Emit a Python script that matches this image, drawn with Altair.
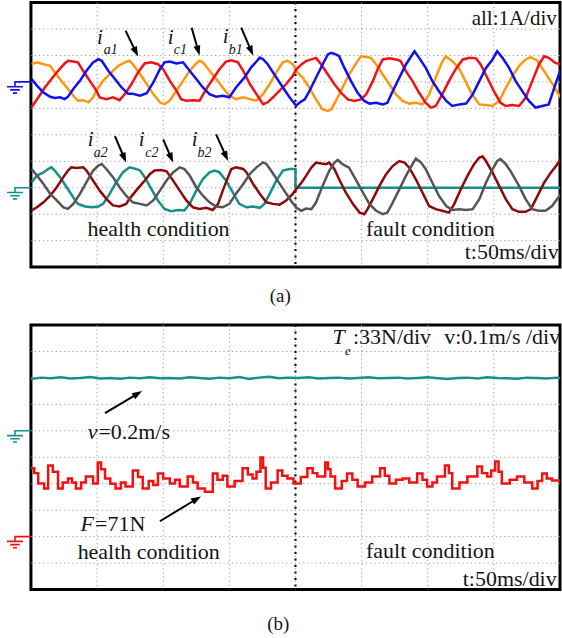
import math
import altair as alt
import pandas as pd

# ---------------- data (time in divisions of 50 ms, amplitude in divisions) ----------------
FAULT_T = 4.0
GRID_X = [1, 2, 3, 4, 5, 6, 7]
GRID_Y = [1, 2, 3, 4, 5, 6, 7, 8, 9]

# panel (a) upper group, 1 A/div, ground level at division 7
IA1 = [(0.01, -0.96), (0.11, -0.59), (0.21, -0.21), (0.31, 0.11), (0.41, 0.42), (0.51, 0.70), (0.56, 0.80),
       (0.64, 0.77), (0.71, 0.74), (0.79, 0.42), (0.89, 0.04), (0.99, -0.33), (1.04, -0.59), (1.14, -0.65),
       (1.24, -0.58), (1.34, -0.69), (1.42, -0.46), (1.52, -0.08), (1.62, 0.36), (1.72, 0.70), (1.82, 0.74),
       (1.92, 0.67), (2.00, 0.48), (2.10, 0.04), (2.20, -0.33), (2.27, -0.65), (2.35, -0.71), (2.45, -0.69),
       (2.55, -0.71), (2.65, -0.27), (2.75, 0.11), (2.85, 0.48), (2.95, 0.77), (3.03, 0.82), (3.13, 0.74),
       (3.21, 0.42), (3.31, -0.08), (3.41, -0.46), (3.51, -0.84), (3.58, -0.77), (3.66, -0.58), (3.76, -0.33),
       (3.86, -0.08), (3.96, 0.23), (4.01, 0.47), (4.09, 0.66), (4.16, 0.79), (4.24, 0.85), (4.31, 0.91),
       (4.39, 0.66), (4.49, 0.28), (4.59, -0.09), (4.69, -0.41), (4.79, -0.66), (4.89, -0.72), (4.99, -0.66),
       (5.07, -0.47), (5.17, 0.03), (5.24, 0.47), (5.32, 0.85), (5.42, 0.89), (5.52, 0.85), (5.59, 0.79),
       (5.67, 0.41), (5.77, 0.03), (5.87, -0.41), (5.97, -0.79), (6.05, -0.97), (6.12, -0.91), (6.22, -0.47),
       (6.32, 0.03), (6.42, 0.47), (6.53, 0.85), (6.63, 0.91), (6.73, 0.89), (6.80, 0.66), (6.90, 0.16),
       (7.00, -0.35), (7.10, -0.79), (7.18, -0.91), (7.28, -0.87), (7.38, -0.91), (7.48, -0.60), (7.58, 0.03),
       (7.68, 0.66), (7.76, 0.97), (7.83, 0.91), (7.93, 0.72), (8.01, 0.66)]
IB1 = [(0.01, 0.11), (0.09, -0.14), (0.19, -0.40), (0.29, -0.56), (0.36, -0.61), (0.44, -0.58), (0.51, -0.65),
       (0.56, -0.56), (0.64, -0.27), (0.74, 0.04), (0.84, 0.42), (0.94, 0.74), (1.02, 0.86), (1.07, 0.80),
       (1.17, 0.42), (1.27, 0.11), (1.37, -0.21), (1.47, -0.45), (1.54, -0.45), (1.65, -0.52), (1.75, -0.43),
       (1.85, -0.02), (1.95, 0.48), (2.02, 0.74), (2.10, 0.77), (2.20, 0.70), (2.30, 0.74), (2.40, 0.42),
       (2.50, 0.11), (2.60, -0.21), (2.70, -0.46), (2.80, -0.56), (2.90, -0.52), (3.00, -0.58), (3.10, -0.21),
       (3.23, 0.17), (3.33, 0.55), (3.41, 0.77), (3.46, 0.92), (3.51, 0.86), (3.58, 0.67), (3.71, 0.17),
       (3.81, -0.21), (3.91, -0.58), (4.01, -0.90), (4.06, -0.79), (4.14, -0.66), (4.21, -0.35), (4.31, 0.16),
       (4.41, 0.66), (4.49, 1.04), (4.54, 1.10), (4.61, 1.04), (4.66, 0.97), (4.74, 0.53), (4.84, 0.03),
       (4.94, -0.41), (5.04, -0.72), (5.12, -0.82), (5.22, -0.79), (5.32, -0.85), (5.39, -0.79), (5.47, -0.35),
       (5.57, 0.16), (5.67, 0.66), (5.75, 0.97), (5.80, 1.16), (5.87, 0.91), (5.97, 0.53), (6.07, 0.03),
       (6.17, -0.35), (6.28, -0.72), (6.37, -0.91), (6.48, -0.85), (6.58, -0.82), (6.68, -0.47), (6.78, 0.03),
       (6.88, 0.53), (6.98, 0.85), (7.05, 1.16), (7.13, 0.91), (7.23, 0.53), (7.33, 0.03), (7.43, -0.35),
       (7.53, -0.72), (7.63, -0.97), (7.73, -0.91), (7.83, -0.85), (7.93, -0.09), (8.01, 0.47)]
IC1 = [(0.01, 0.67), (0.09, 0.74), (0.19, 0.67), (0.29, 0.61), (0.36, 0.36), (0.46, 0.04), (0.56, -0.27),
       (0.66, -0.58), (0.71, -0.71), (0.79, -0.69), (0.87, -0.77), (0.94, -0.58), (0.99, -0.33), (1.09, 0.04),
       (1.22, 0.36), (1.32, 0.61), (1.42, 0.74), (1.49, 0.80), (1.54, 0.67), (1.65, 0.30), (1.75, -0.08),
       (1.85, -0.46), (1.95, -0.77), (2.02, -0.84), (2.10, -0.71), (2.20, -0.33), (2.30, 0.04), (2.40, 0.42),
       (2.50, 0.70), (2.55, 0.80), (2.60, 0.74), (2.70, 0.42), (2.80, 0.11), (2.90, -0.21), (3.00, -0.52),
       (3.10, -0.65), (3.21, -0.58), (3.31, -0.65), (3.41, -0.71), (3.51, -0.46), (3.61, -0.08), (3.71, 0.36),
       (3.81, 0.74), (3.88, 0.80), (3.96, 0.67), (4.01, 0.41), (4.11, 0.16), (4.21, -0.22), (4.31, -0.66),
       (4.41, -1.04), (4.49, -1.10), (4.54, -1.04), (4.61, -0.72), (4.71, -0.22), (4.81, 0.28), (4.92, 0.72),
       (4.99, 0.97), (5.07, 0.94), (5.14, 0.91), (5.22, 0.66), (5.32, 0.28), (5.42, -0.09), (5.52, -0.47),
       (5.62, -0.72), (5.72, -0.82), (5.82, -0.79), (5.92, -0.85), (6.02, -0.47), (6.12, 0.16), (6.20, 0.66),
       (6.27, 0.97), (6.37, 0.79), (6.47, 0.53), (6.57, 0.03), (6.67, -0.47), (6.78, -0.85), (6.88, -0.87),
       (6.98, -0.91), (7.08, -0.72), (7.18, -0.22), (7.28, 0.22), (7.38, 0.60), (7.48, 0.85), (7.56, 0.94),
       (7.66, 0.79), (7.76, 0.41), (7.89, -0.09), (8.01, -0.60)]

# panel (a) lower group, 1 A/div, ground level at division 3
IA2 = [(0.01, 0.21), (0.09, 0.46), (0.19, 0.58), (0.26, 0.71), (0.31, 0.77), (0.36, 0.65), (0.44, 0.40),
       (0.54, 0.02), (0.64, -0.36), (0.71, -0.61), (0.82, -0.71), (0.92, -0.74), (1.02, -0.71), (1.09, -0.61),
       (1.19, -0.23), (1.29, 0.21), (1.39, 0.58), (1.49, 0.77), (1.59, 0.71), (1.65, 0.65), (1.72, 0.40),
       (1.82, -0.04), (1.92, -0.48), (2.02, -0.80), (2.12, -0.89), (2.22, -0.84), (2.32, -0.86), (2.40, -0.61),
       (2.50, -0.11), (2.60, 0.33), (2.70, 0.58), (2.78, 0.65), (2.85, 0.58), (2.95, 0.27), (3.05, -0.17),
       (3.15, -0.61), (3.26, -0.74), (3.36, -0.71), (3.46, -0.76), (3.53, -0.61), (3.61, -0.23), (3.71, 0.27),
       (3.81, 0.65), (3.91, 0.71), (4.00, 0.71), (4.00, 0.0), (8.05, 0.0)]
IB2 = [(0.01, -0.86), (0.09, -0.74), (0.19, -0.55), (0.29, -0.30), (0.39, 0.02), (0.49, 0.40), (0.56, 0.65),
       (0.61, 0.77), (0.69, 0.75), (0.79, 0.77), (0.84, 0.65), (0.94, 0.27), (1.04, -0.11), (1.14, -0.42),
       (1.24, -0.67), (1.34, -0.71), (1.44, -0.61), (1.49, -0.42), (1.59, -0.11), (1.70, 0.21), (1.80, 0.52),
       (1.87, 0.65), (1.97, 0.67), (2.05, 0.62), (2.15, 0.27), (2.25, -0.11), (2.35, -0.48), (2.45, -0.74),
       (2.55, -0.80), (2.65, -0.76), (2.75, -0.84), (2.83, -0.61), (2.90, -0.11), (2.98, 0.40), (3.03, 0.71),
       (3.10, 0.77), (3.21, 0.71), (3.26, 0.58), (3.36, 0.14), (3.46, -0.23), (3.56, -0.55), (3.66, -0.61),
       (3.76, -0.64), (3.86, -0.48), (3.96, -0.23), (4.01, -0.06), (4.09, 0.19), (4.16, 0.45), (4.24, 0.76),
       (4.31, 0.95), (4.39, 0.92), (4.46, 0.89), (4.51, 0.95), (4.59, 0.70), (4.66, 0.32), (4.76, -0.18),
       (4.87, -0.62), (4.97, -0.94), (5.04, -1.00), (5.09, -0.81), (5.17, -0.43), (5.27, 0.07), (5.37, 0.51),
       (5.47, 0.82), (5.57, 1.01), (5.65, 0.95), (5.72, 0.76), (5.82, 0.32), (5.92, -0.18), (6.02, -0.69),
       (6.12, -0.81), (6.22, -0.87), (6.32, -0.94), (6.40, -0.62), (6.50, -0.06), (6.60, 0.45), (6.70, 0.89),
       (6.78, 1.14), (6.83, 1.18), (6.88, 1.01), (6.98, 0.57), (7.08, 0.07), (7.18, -0.43), (7.28, -0.81),
       (7.38, -0.91), (7.48, -0.91), (7.56, -0.81), (7.66, -0.31), (7.76, 0.19), (7.86, 0.57), (7.94, 0.82),
       (8.01, 1.08)]
IC2 = [(0.01, 0.71), (0.09, 0.46), (0.19, 0.14), (0.29, -0.23), (0.39, -0.48), (0.49, -0.74), (0.56, -0.80),
       (0.64, -0.61), (0.74, -0.23), (0.84, 0.21), (0.94, 0.65), (1.02, 0.84), (1.07, 0.90), (1.14, 0.71),
       (1.24, 0.40), (1.34, 0.02), (1.44, -0.30), (1.54, -0.55), (1.65, -0.61), (1.75, -0.67), (1.85, -0.48),
       (1.95, -0.11), (2.05, 0.27), (2.15, 0.58), (2.25, 0.77), (2.32, 0.71), (2.40, 0.46), (2.50, 0.02),
       (2.60, -0.30), (2.70, -0.55), (2.80, -0.71), (2.90, -0.74), (3.00, -0.61), (3.10, -0.23), (3.21, 0.14),
       (3.31, 0.52), (3.41, 0.77), (3.51, 0.96), (3.56, 0.90), (3.63, 0.65), (3.73, 0.27), (3.83, -0.11),
       (3.93, -0.48), (4.01, -0.75), (4.09, -0.87), (4.16, -0.79), (4.24, -0.81), (4.31, -0.56), (4.41, 0.07),
       (4.51, 0.64), (4.59, 0.95), (4.64, 1.05), (4.71, 0.89), (4.81, 0.76), (4.91, 0.32), (5.02, -0.18),
       (5.12, -0.62), (5.22, -0.87), (5.32, -1.00), (5.39, -0.94), (5.47, -0.56), (5.57, -0.06), (5.67, 0.45),
       (5.77, 0.89), (5.82, 1.10), (5.90, 0.95), (5.97, 0.70), (6.07, 0.19), (6.17, -0.31), (6.28, -0.69),
       (6.37, -0.84), (6.48, -0.81), (6.58, -0.84), (6.68, -0.81), (6.78, -0.43), (6.88, 0.19), (6.98, 0.70),
       (7.05, 1.01), (7.10, 1.08), (7.18, 0.89), (7.25, 0.64), (7.38, 0.07), (7.48, -0.43), (7.58, -0.81),
       (7.68, -0.87), (7.78, -0.87), (7.88, -0.69), (8.01, -0.25)]

# panel (b): speed (0.1 m/s/div, ground at division 6), thrust (33 N/div, ground at division 2)
SPEED = [(0.0, 1.96), (0.15, 2.01), (0.3, 1.99), (0.45, 2.02), (0.6, 1.98), (0.75, 2.0), (0.9, 2.03),
         (1.05, 1.98), (1.2, 2.0), (1.35, 1.97), (1.5, 2.01), (1.65, 1.99), (1.8, 2.02), (1.95, 1.99),
         (2.1, 2.0), (2.25, 1.98), (2.4, 2.02), (2.55, 2.0), (2.7, 1.97), (2.85, 2.01), (3.0, 1.99),
         (3.15, 2.03), (3.3, 1.96), (3.45, 2.01), (3.6, 2.04), (3.75, 1.99), (3.9, 2.01), (4.05, 2.0),
         (4.2, 2.02), (4.35, 1.98), (4.5, 2.0), (4.65, 2.01), (4.8, 1.98), (4.95, 2.0), (5.1, 2.02),
         (5.25, 1.99), (5.4, 2.0), (5.55, 2.01), (5.7, 1.98), (5.85, 2.0), (6.0, 2.02), (6.15, 1.99),
         (6.3, 1.96), (6.45, 2.0), (6.6, 2.01), (6.75, 1.98), (6.9, 2.02), (7.05, 2.0), (7.2, 1.99),
         (7.35, 1.97), (7.5, 2.01), (7.65, 2.0), (7.8, 1.98), (7.95, 2.01), (8.0, 2.0)]
THRUST = [(0.0, 2.58), (0.05, 2.40), (0.11, 2.01), (0.20, 1.82), (0.26, 2.69), (0.33, 2.45), (0.41, 1.82),
          (0.48, 2.05), (0.56, 2.20), (0.62, 2.05), (0.68, 1.82), (0.76, 2.05), (0.83, 2.27), (0.94, 2.01),
          (1.01, 2.80), (1.06, 2.55), (1.12, 2.20), (1.20, 2.00), (1.28, 1.82), (1.36, 2.05), (1.43, 1.89),
          (1.54, 2.50), (1.62, 2.25), (1.69, 1.82), (1.78, 2.10), (1.85, 1.95), (1.92, 2.39), (2.00, 2.20),
          (2.10, 2.01), (2.18, 2.15), (2.25, 1.89), (2.37, 2.27), (2.45, 2.05), (2.52, 1.82), (2.63, 1.70),
          (2.75, 2.39), (2.82, 2.15), (2.90, 2.30), (2.97, 1.89), (3.08, 2.10), (3.20, 2.58), (3.28, 2.35),
          (3.35, 2.20), (3.41, 2.45), (3.47, 2.99), (3.51, 2.60), (3.55, 1.82), (3.63, 2.05), (3.73, 2.50),
          (3.80, 2.30), (3.88, 2.20), (3.97, 2.01), (4.08, 2.25), (4.18, 2.58), (4.26, 2.40), (4.33, 2.27),
          (4.45, 2.80), (4.49, 2.55), (4.53, 2.27), (4.60, 1.82), (4.70, 2.10), (4.78, 2.39), (4.86, 2.15),
          (4.94, 1.89), (5.05, 2.05), (5.16, 2.27), (5.28, 2.58), (5.35, 2.30), (5.42, 2.01), (5.52, 2.15),
          (5.62, 2.20), (5.72, 2.05), (5.84, 2.39), (5.92, 2.15), (5.99, 1.89), (6.07, 2.05), (6.14, 2.27),
          (6.26, 2.69), (6.32, 2.40), (6.37, 1.82), (6.48, 2.05), (6.60, 2.27), (6.75, 2.65), (6.82, 2.40),
          (6.90, 2.27), (6.96, 2.50), (7.02, 2.84), (7.07, 2.45), (7.12, 2.01), (7.24, 2.15), (7.35, 2.27),
          (7.46, 2.05), (7.58, 1.82), (7.66, 2.10), (7.73, 2.39), (7.80, 2.20), (7.88, 2.12), (8.0, 2.12)]

SERIES = ["ia1", "ib1", "ic1", "ia2", "ib2", "ic2", "v", "F"]
COLORS = ["#f21212", "#1010f0", "#ff9610", "#13908c", "#8e0a0a", "#555555", "#15908c", "#f51010"]

# ---------------- layout helpers ----------------
SERIF = "Times New Roman, Liberation Serif, DejaVu Serif, serif"
W, H = 530, 265
X_PX = W / 8.0
Y_PX = H / 10.0
xs = alt.Scale(domain=[0, 8], nice=False, zero=False)
ys = alt.Scale(domain=[0, 10], nice=False, zero=False)
cs = alt.Scale(domain=SERIES, range=COLORS)
GROUND_PATH = "M2,0 L0,0 L0,0.6 M-1,0.6 L1,0.6 M-0.6,1 L0.6,1 M-0.25,1.4 L0.25,1.4"
HEAD_PATH = "M0,-1 L-0.7,1 L0.7,1 Z"


def traces(specs, step=False):
    rows = []
    for name, pts, base in specs:
        for k, (t, v) in enumerate(pts):
            rows.append({"series": name, "k": k, "t": t, "y": base + v})
    mark = alt.Chart(pd.DataFrame(rows)).mark_line(
        strokeWidth=2.5, clip=True, interpolate="step-after" if step else "linear")
    return mark.encode(
        x=alt.X("t:Q", scale=xs, axis=None),
        y=alt.Y("y:Q", scale=ys, axis=None),
        color=alt.Color("series:N", scale=cs, legend=None),
        detail="series:N",
        order="k:Q",
    )


def background():
    gv = alt.Chart(pd.DataFrame({"t": GRID_X})).mark_rule(
        color="#9c9c9c", strokeDash=[1.2, 3], strokeWidth=1).encode(x=alt.X("t:Q", scale=xs, axis=None))
    gh = alt.Chart(pd.DataFrame({"y": GRID_Y})).mark_rule(
        color="#9c9c9c", strokeDash=[1.2, 3], strokeWidth=1).encode(y=alt.Y("y:Q", scale=ys, axis=None))
    dv = alt.Chart(pd.DataFrame({"t": [FAULT_T]})).mark_rule(
        color="#111111", strokeDash=[2, 4.5], strokeWidth=2.2).encode(x=alt.X("t:Q", scale=xs, axis=None))
    return [gv, gh, dv]


def grounds(levels):
    df = pd.DataFrame({"series": [s for s, _ in levels], "level": [l for _, l in levels]})
    return alt.Chart(df).mark_point(shape=GROUND_PATH, size=256, filled=False, strokeWidth=1.6,
                                    opacity=1).encode(
        x=alt.value(-16),
        y=alt.Y("level:Q", scale=ys, axis=None),
        color=alt.Color("series:N", scale=cs, legend=None),
    )


def arrows(items):
    rows = []
    for t1, y1, t2, y2 in items:
        dx = (t2 - t1) * X_PX
        dy = -(y2 - y1) * Y_PX
        L = math.hypot(dx, dy)
        ux, uy = dx / L, dy / L
        back = 5.0
        rows.append({"t1": t1, "y1": y1,
                     "th": t2 - back * ux / X_PX, "yh": y2 + back * uy / Y_PX,
                     "ang": math.degrees(math.atan2(dx, -dy)) % 360})
    df = pd.DataFrame(rows)
    line = alt.Chart(df).mark_rule(color="black", strokeWidth=2).encode(
        x=alt.X("t1:Q", scale=xs, axis=None), y=alt.Y("y1:Q", scale=ys, axis=None),
        x2="th:Q", y2="yh:Q")
    head = alt.Chart(df).mark_point(shape=HEAD_PATH, size=100, filled=True, color="black",
                                    opacity=1).encode(
        x=alt.X("th:Q", scale=xs, axis=None), y=alt.Y("yh:Q", scale=ys, axis=None),
        angle=alt.Angle("ang:Q", scale=None))
    return [line, head]


def text(label, t, y, size=22, italic=False, align="left"):
    df = pd.DataFrame({"label": [label], "t": [t], "y": [y]})
    return alt.Chart(df).mark_text(
        font=SERIF, fontSize=size, fontStyle="italic" if italic else "normal",
        align=align, baseline="alphabetic", color="#141414").encode(
        x=alt.X("t:Q", scale=xs, axis=None), y=alt.Y("y:Q", scale=ys, axis=None), text="label:N")


def sublabel(main, sub, t, y, t_sub, y_sub):
    return [text(main, t, y, size=21, italic=True), text(sub, t_sub, y_sub, size=14, italic=True)]


# ---------------- panel (a) ----------------
layers_a = background()
layers_a.append(traces([("ia2", IA2, 3), ("ib2", IB2, 3), ("ic2", IC2, 3),
                        ("ic1", IC1, 7), ("ia1", IA1, 7), ("ib1", IB1, 7)]))
layers_a.append(grounds([("ib1", 7), ("ia2", 3)]))
layers_a += sublabel("i", "a1", 1.00, 8.42, 1.10, 8.06)
layers_a += sublabel("i", "c1", 2.07, 8.45, 2.16, 8.06)
layers_a += sublabel("i", "b1", 2.90, 8.49, 2.99, 8.06)
layers_a += sublabel("i", "a2", 0.86, 4.57, 0.95, 4.15)
layers_a += sublabel("i", "c2", 1.63, 4.57, 1.73, 4.17)
layers_a += sublabel("i", "b2", 2.43, 4.57, 2.52, 4.17)
layers_a += arrows([(1.43, 8.94, 1.62, 7.96), (2.43, 9.05, 2.55, 8.0), (3.18, 9.05, 3.36, 8.0),
                    (1.27, 4.95, 1.44, 3.95), (2.00, 4.83, 2.15, 3.95), (2.80, 5.02, 2.98, 4.01)])
layers_a += [
    text("all:1A/div", 7.95, 9.17, size=21, align="right"),
    text("health condition", 1.93, 1.16, align="center"),
    text("fault condition", 6.04, 1.16, align="center"),
    text("t:50ms/div", 7.98, 0.30, align="right"),
    text("(a)", 3.77, -1.32, size=19, align="center"),
]
panel_a = alt.layer(*layers_a).properties(width=W, height=H)

# ---------------- panel (b) ----------------
layers_b = background()
layers_b.append(traces([("v", SPEED, 6)]))
layers_b.append(traces([("F", THRUST, 2)], step=True))
layers_b.append(grounds([("v", 6), ("F", 2)]))
layers_b += arrows([(1.12, 6.67, 1.68, 7.5), (1.95, 2.58, 2.57, 3.52)])
layers_b += [
    text("T", 4.56, 9.28, italic=True),
    text("e", 4.75, 8.88, size=13, italic=True),
    text(":33N/div", 4.87, 9.28),
    text("v:0.1m/s /div", 6.25, 9.28),
    text("v", 0.86, 5.68, italic=True),
    text("=0.2m/s", 1.02, 5.68),
    text("F", 0.75, 2.21, italic=True),
    text("=71N", 0.97, 2.21),
    text("health condition", 1.78, 1.16, align="center"),
    text("fault condition", 6.04, 1.18, align="center"),
    text("t:50ms/div", 7.95, 0.15, align="right"),
    text("(b)", 3.74, -1.52, size=19, align="center"),
]
panel_b = alt.layer(*layers_b).properties(width=W, height=H)

chart = alt.vconcat(panel_a, panel_b, spacing=58, bounds="flush").properties(
    padding={"left": 2, "top": -1, "right": 0, "bottom": 0},
    background="white",
).configure_view(stroke="black", strokeWidth=3)

chart.save("out.html", embed_options={"renderer": "svg", "actions": False})
